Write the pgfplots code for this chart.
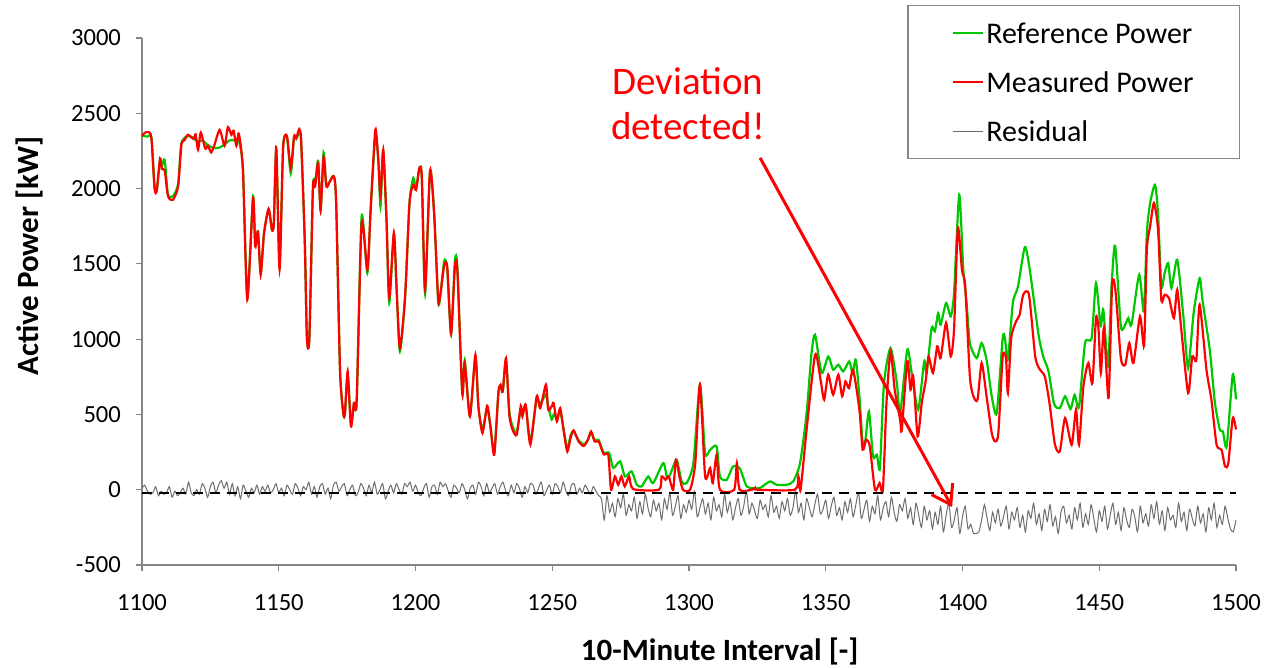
\documentclass[border=0pt]{standalone}
\usepackage{fontspec}
\setmainfont{Carlito}
\usepackage{pgfplots}
\pgfplotsset{compat=1.18}
\usetikzlibrary{arrows.meta}

\definecolor{refgreen}{RGB}{0,200,0}
\definecolor{measred}{RGB}{255,0,0}
\definecolor{resgray}{RGB}{110,110,110}
\definecolor{axgray}{RGB}{134,134,134}

\begin{document}
\begin{tikzpicture}
% frame of the reference image: 1 px = 0.5 pt, axis box lower left at (0,0)
\useasboundingbox (-71pt,-51.5pt) rectangle (566pt,282.5pt);
\begin{axis}[
  scale only axis,
  width=547pt, height=263.5pt,
  xmin=1100, xmax=1500, ymin=-500, ymax=3000,
  xtick={1100,1150,...,1500},
  ytick={-500,0,...,3000},
  axis lines*=left,
  axis line style={axgray, line width=0.6pt},
  tick style={axgray, line width=0.6pt},
  tick align=outside,
  major tick length=3pt,
  clip=false,
  /pgf/number format/assume math mode=true,
  /pgf/number format/1000 sep={},
  ticklabel style={font=\fontsize{12.3}{14}\selectfont},
  yticklabel style={xshift=-4pt},
  xticklabel style={yshift=-8pt},
  xlabel={\bfseries 10-Minute Interval [-]},
  ylabel={\bfseries Active Power [kW]},
  label style={font=\fontsize{15.5}{18}\selectfont},
  xlabel style={at={(axis description cs:0.528,-0.165)}, anchor=center},
  ylabel style={at={(axis description cs:-0.1024,0.586)}, anchor=center},
  legend style={
    at={(axis description cs:1.0037,1.0626)}, anchor=north east,
    draw=axgray, line width=0.6pt,
    font=\fontsize{15}{17}\selectfont,
    inner xsep=22pt, inner ysep=5.8pt,
    row sep=8.5pt, cells={anchor=west},
    nodes={inner sep=1pt, text height=12pt, text depth=2pt},
  },
  legend image code/.code={\draw[#1] (0pt,0pt) -- (15pt,0pt);},
]
\addplot[refgreen, line width=1.1pt, smooth, tension=0.4] coordinates {
(1100,2350)(1102,2345)(1103.5,2335)(1104.6,2010)(1105.4,1995)(1106.6,2190)
(1107.3,2150)(1108.3,2190)(1109.5,1960)(1111.3,1950)(1113.2,2030)(1114.4,2300)
(1116.8,2350)(1118.8,2335)(1120.5,2310)(1122,2320)(1124,2290)(1126,2270)
(1128,2270)(1130,2290)(1132,2320)(1134,2320)(1135.4,2320)(1136.9,2130)
(1138.5,1280)(1140.6,1950)(1141.4,1620)(1142.4,1715)(1143.4,1440)(1144.6,1700)
(1146.3,1860)(1147.5,1730)(1148.2,1770)(1149.1,2250)(1150.3,1480)(1151.6,2280)
(1153,2340)(1154.4,2100)(1155.6,2340)(1156.4,2330)(1157.5,2370)(1158.2,2310)
(1159.5,1660)(1160.3,1010)(1161.2,1010)(1162.5,2010)(1163.3,2030)(1164.4,2185)
(1165.3,1850)(1166.4,2240)(1167.4,2020)(1168.7,2050)(1170.2,2080)(1171,1900)
(1172.4,800)(1173.6,505)(1174.2,505)(1175.2,760)(1176.4,440)(1177.5,576)
(1178.5,590)(1180.3,1815)(1182.4,1440)(1183.6,1860)(1185.3,2350)(1186.4,2190)
(1187.2,1880)(1188.2,2250)(1189.4,1790)(1190.4,1240)(1192.1,1700)(1193.1,1330)
(1194.3,920)(1196.2,1280)(1197.8,1900)(1199.2,2070)(1200.2,2000)(1201.4,2130)
(1202.3,2080)(1203.5,1300)(1205.3,2110)(1206.8,1850)(1208.3,1250)(1209.1,1295)
(1210.5,1520)(1211.6,1470)(1213,1030)(1214.4,1520)(1215.3,1480)(1217.1,640)
(1218,860)(1219.9,490)(1221.9,880)(1223,550)(1224.5,400)(1226.2,545)
(1227.4,420)(1228.8,250)(1230.3,640)(1231.1,690)(1231.9,650)(1233.1,860)
(1234.3,520)(1235.5,420)(1237,380)(1238.5,540)(1239.1,500)(1240.3,555)
(1242,320)(1244.3,600)(1245.6,570)(1247.7,633)(1248.5,560)(1249.8,465)
(1250.5,498)(1251.7,480)(1252.9,520)(1254.2,400)(1255.5,270)(1256.7,360)
(1257.8,390)(1259.6,330)(1261.5,300)(1263,330)(1264.2,380)(1265.5,330)
(1267,330)(1268.8,245)(1270.8,245)(1272.3,144)(1274.8,188)(1276.6,88)
(1279,122)(1280.9,33)(1282.7,22)(1285.1,88)(1286.9,44)(1290.6,177)
(1292,77)(1293.3,110)(1295.5,199)(1297.3,55)(1299.1,44)(1301.6,177)
(1304,697)(1305.9,243)(1307.7,265)(1310.1,288)(1311.3,88)(1313.8,66)
(1316.1,155)(1318.5,144)(1321.1,22)(1323.5,11)(1325.9,11)(1329.6,55)
(1332,33)(1335.7,33)(1338.1,55)(1340.6,177)(1343,509)(1344.8,907)
(1346.1,1029)(1348.5,775)(1350.9,885)(1352.7,797)(1354.6,830)(1356.4,786)
(1358.6,852)(1359.8,775)(1361,863)(1362.3,620)(1363.5,310)(1364.5,330)
(1365.8,520)(1367.3,221)(1368.7,232)(1369.8,144)(1371.3,708)(1373.7,941)
(1376,708)(1377.2,509)(1379.8,930)(1381.5,764)(1383.8,531)(1386,852)
(1386.9,775)(1388.7,1074)(1389.9,1052)(1391.1,1173)(1392,1096)(1394,1240)
(1395.7,1151)(1396.9,1306)(1398.8,1959)(1400.3,1461)(1401.5,1240)(1402.7,974)
(1405.2,874)(1407,974)(1408.8,863)(1410.7,620)(1412.5,509)(1414.7,1007)
(1415.5,1007)(1416.6,863)(1418.4,1240)(1420.3,1350)(1422.8,1611)(1424.6,1461)
(1427.8,1029)(1429.6,880)(1431.4,790)(1433.5,570)(1435.6,542)(1437.5,620)
(1439.5,536)(1441,630)(1442.6,550)(1444.8,974)(1447.2,1007)(1448.8,1372)
(1450.5,1085)(1451.5,1195)(1453.2,819)(1454.5,1350)(1455.8,1620)(1457.9,1085)
(1459.5,1096)(1460.6,1140)(1461.8,1096)(1464.6,1428)(1466.3,1184)(1467.4,1705)
(1468.6,1904)(1470.4,2025)(1471.5,1830)(1472.7,1350)(1473.9,1439)(1475.2,1505)
(1476.4,1339)(1478.5,1527)(1480.7,1162)(1482.5,808)(1484.5,1173)(1486.7,1405)
(1487.8,1251)(1490.4,930)(1492.3,576)(1494.1,398)(1495.2,387)(1496.6,288)
(1498.8,764)(1500,600)
};
\addlegendentry{Reference Power}
\addplot[measred, line width=1.1pt, smooth, tension=0.4] coordinates {
(1100,2350)(1101,2370)(1102.2,2375)(1103.4,2340)(1104.6,2000)(1105.4,1985)
(1106.6,2200)(1107.3,2130)(1108.3,2120)(1109.5,1950)(1111.3,1925)(1113.2,2014)
(1114.4,2290)(1115.5,2320)(1116.8,2357)(1118.8,2330)(1119.6,2360)(1120.5,2258)
(1121.5,2372)(1123.1,2266)(1124.1,2284)(1125.3,2240)(1126.5,2290)(1128.4,2390)
(1130.2,2284)(1131.4,2408)(1132.7,2357)(1133.5,2384)(1134.5,2284)(1135.4,2364)
(1136.9,2125)(1138.5,1262)(1140.6,1937)(1141.4,1616)(1142.4,1715)(1143.4,1428)
(1144.6,1700)(1146.3,1866)(1147.5,1726)(1148.2,1770)(1149.1,2275)(1150.3,1465)
(1151.6,2270)(1153,2350)(1154.4,2136)(1155.6,2346)(1156.4,2335)(1157.5,2395)
(1158.2,2315)(1159.5,1660)(1160.3,1007)(1161.2,1007)(1162.5,2003)(1163.3,2014)
(1164.4,2170)(1165.3,1860)(1166.4,2210)(1167.4,2014)(1168.7,2047)(1170.2,2080)
(1171,1900)(1172.4,797)(1173.6,509)(1174.2,509)(1175.2,786)(1176.4,420)
(1177.5,576)(1178.5,590)(1180.3,1771)(1182.4,1460)(1183.6,1860)(1185.3,2390)
(1186.4,2190)(1187.2,1950)(1188.2,2258)(1189.4,1793)(1190.4,1275)(1192.1,1705)
(1193.1,1330)(1194.3,940)(1196.2,1284)(1197.8,1904)(1199.2,2025)(1200.2,1990)
(1201.4,2136)(1202.3,2080)(1203.5,1328)(1205.3,2118)(1206.8,1833)(1208.3,1262)
(1209.1,1295)(1210.5,1490)(1211.6,1480)(1213,1036)(1214.4,1480)(1215.3,1460)
(1217.1,642)(1218,841)(1219.9,487)(1221.9,896)(1223,553)(1224.5,376)
(1226.2,557)(1227.4,420)(1228.8,232)(1230.3,642)(1231.1,697)(1231.9,653)
(1233.1,874)(1234.3,498)(1235.5,398)(1237,365)(1238.5,557)(1239.1,487)
(1240.3,564)(1242,300)(1244.3,620)(1245.6,542)(1247.7,697)(1248.5,531)
(1249.8,553)(1250.5,575)(1251.7,453)(1252.9,542)(1254.2,387)(1255.5,254)
(1256.7,343)(1257.8,394)(1259.6,321)(1261.5,290)(1263,330)(1264.2,387)
(1265.5,320)(1267,320)(1268.8,235)(1270.5,230)(1271.5,0)(1272.9,88)
(1274.1,33)(1275.3,88)(1276.5,22)(1278.1,88)(1279.6,4)(1289,0)
(1290,88)(1291.4,66)(1292.6,88)(1294.2,0)(1295.2,199)(1296.5,88)
(1297.8,0)(1300.4,0)(1302.3,177)(1304,697)(1305.9,88)(1307.7,144)
(1308.7,44)(1310.1,232)(1311.3,0)(1316.5,0)(1317.5,177)(1318.5,0)
(1323,0)(1324,11)(1325,0)(1338.7,0)(1340,88)(1340.8,0)
(1343,398)(1346.1,896)(1348.1,730)(1349.4,598)(1350.9,764)(1352.7,631)
(1354.6,764)(1356,620)(1357.2,719)(1358.5,675)(1360,797)(1362.3,531)
(1363.5,266)(1364.8,332)(1366.1,288)(1368,0)(1369.7,44)(1370.9,0)
(1372.2,576)(1373.7,919)(1375.2,664)(1377.2,465)(1377.8,398)(1379.8,852)
(1381,664)(1382,752)(1383.6,354)(1385.1,576)(1386.6,730)(1387.6,885)
(1389.2,775)(1390.8,952)(1392,874)(1394,1107)(1395.7,885)(1396.9,1063)
(1398.3,1737)(1399.8,1461)(1401,1350)(1402.7,752)(1404,620)(1405.5,598)
(1407,841)(1408.8,620)(1410.7,376)(1411.9,321)(1413.1,376)(1414.7,885)
(1415.9,874)(1416.6,642)(1417.8,1007)(1419.6,1118)(1420.9,1162)(1422.2,1295)
(1424.3,1295)(1426.6,885)(1428.3,797)(1430.1,752)(1431.8,576)(1433.8,299)
(1435.6,255)(1437.5,476)(1439.9,299)(1441.5,531)(1442.6,299)(1444.2,686)
(1446,841)(1447.5,708)(1448.8,1140)(1449.7,1074)(1450.6,775)(1451.7,1074)
(1453.4,609)(1454.7,1361)(1455.9,1328)(1457.9,874)(1459.5,830)(1461,974)
(1462.5,841)(1464.9,1151)(1466.4,957)(1467.4,1594)(1468.6,1749)(1470,1904)
(1471.5,1727)(1472.7,1262)(1473.9,1295)(1475.5,1273)(1477.3,1140)(1478.5,1328)
(1480,1063)(1482.5,642)(1484,885)(1485.5,863)(1486.7,1229)(1489.2,797)
(1491,598)(1492.9,299)(1494.7,266)(1496,155)(1497.2,177)(1498.8,476)
(1500,400)
};
\addlegendentry{Measured Power}
\addplot[resgray, line width=0.5pt, smooth, tension=0.4] table[x expr=\coordindex+1100, y index=0] {
r
10
30
-10
-30
-20
20
-40
-10
-30
-20
20
-50
-10
-40
-20
10
-30
50
-20
-40
0
-30
40
10
-50
20
50
-20
30
60
10
50
-30
40
-40
20
-60
30
-10
-50
10
-20
30
-30
20
-10
30
-20
0
40
-20
10
-40
30
0
-30
40
10
-40
20
0
50
-30
20
-50
20
40
-30
10
-60
30
50
-10
20
40
-40
0
30
-40
-20
40
10
-40
30
-20
50
-30
0
40
-60
-10
30
-20
40
0
-30
40
20
50
-10
30
-20
-40
10
40
-50
20
30
-30
50
20
40
-10
-50
30
10
-20
40
0
-60
10
30
-30
50
20
-40
40
-20
10
40
-30
20
50
-10
-40
30
-20
40
10
-50
20
-20
40
30
-30
10
50
-40
0
30
-30
40
20
-20
50
-10
-40
30
40
-30
10
-20
30
0
-30
20
-10
-40
-60
-200
-40
-150
-90
-180
-60
-120
-30
-170
-100
-140
-50
-190
-80
-160
-30
-120
-180
-70
-140
-90
-200
-60
-130
-20
-170
-110
-40
-190
-100
-150
-70
-130
-10
-180
-120
-60
-160
-90
-200
-50
-140
-100
-180
-30
-150
-80
-200
-120
-60
-170
-110
-10
-160
-90
-140
-190
-70
-130
-100
-180
-40
-150
-110
-190
-80
-140
-60
-170
-120
-10
-150
-90
-200
-60
-120
-180
-100
-30
-160
-130
-70
-190
-110
-50
-170
-120
-200
-80
-150
-60
-180
-100
-20
-190
-130
-70
-210
-110
-160
-40
-200
-120
-80
-180
-50
-150
-210
-100
-140
-60
-190
-120
-230
-90
-170
-250
-110
-200
-140
-260
-150
-230
-110
-280
-170
-90
-250
-200
-120
-290
-180
-110
-260
-230
-290
-290
-280
-200
-100
-190
-270
-150
-220
-130
-240
-180
-110
-260
-150
-200
-120
-250
-170
-280
-140
-190
-90
-230
-160
-270
-130
-210
-100
-240
-180
-290
-150
-110
-220
-170
-260
-120
-200
-90
-250
-160
-230
-100
-190
-280
-140
-210
-110
-260
-170
-90
-230
-150
-270
-120
-200
-250
-130
-180
-280
-110
-220
-160
-240
-100
-190
-80
-230
-140
-270
-120
-200
-170
-250
-90
-210
-150
-270
-130
-190
-240
-110
-220
-160
-280
-120
-200
-90
-250
-170
-230
-110
-190
-260
-280
-200
};
\addlegendentry{Residual}
\addplot[black, line width=1pt, dash pattern=on 5pt off 3.5pt, forget plot] coordinates {(1100,-20) (1500,-20)};
\node[measred, align=center, font=\fontsize{19.5}{22.5}\selectfont] at (axis cs:1299.6,2563) {Deviation\\detected!};
\draw[measred, line width=1.5pt, -{Straight Barb[length=9pt,width=12pt]}] (axis cs:1326,2204) -- (axis cs:1396.2,-115);
\end{axis}
\end{tikzpicture}
\end{document}
